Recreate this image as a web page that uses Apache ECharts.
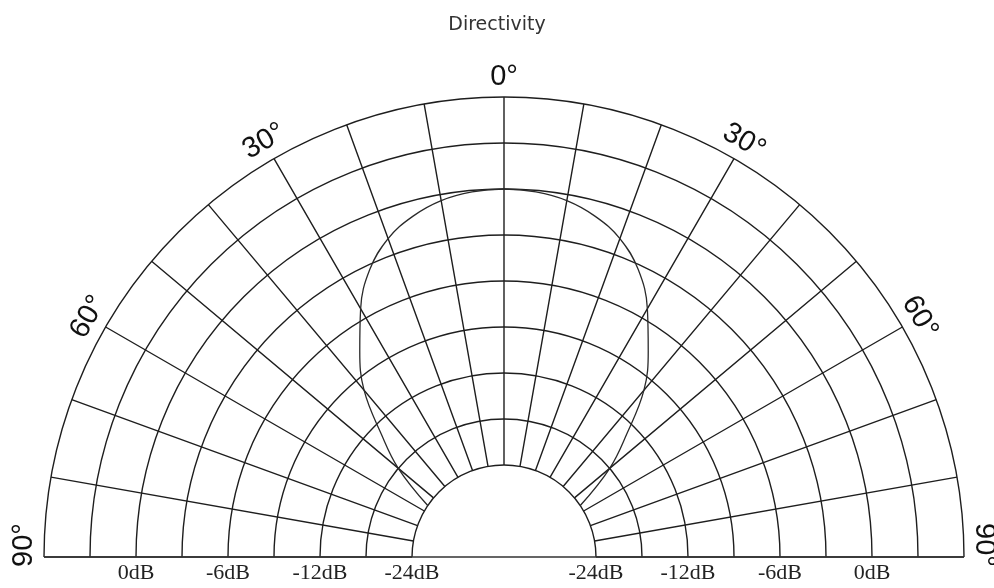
<!DOCTYPE html>
<html>
<head>
<meta charset="utf-8">
<script src="https://cdn.jsdelivr.net/npm/echarts@6/dist/echarts.min.js"></script>
<style>
html,body{margin:0;padding:0;background:#fff;}
#chart{width:994px;height:588px;}
</style>
</head>
<body>
<div id="chart"></div>
<script>
const titleText = 'Directivity';
// directivity curve: angle (deg, negative = left) and level (dB)
const curveAngles = [-56,-50,-45,-40,-35,-30,-25,-20,-15,-10,-5,0,5,10,15,20,25,30,35,40,45,50,56];
const curveLevels = [-18,-15,-12.7,-9.8,-7.6,-5.3,-3.3,-1.9,-1.0,-0.4,-0.1,0,-0.1,-0.4,-1.0,-1.9,-3.3,-5.3,-7.6,-9.8,-12.7,-15,-18];
// radius (level) tick labels
const levelTicks = [-18,-12,-6,0];
const levelTickLabels = ['-24dB','-12dB','-6dB','0dB'];
// angle tick labels
const angleTicks = [-90,-60,-30,0,30,60,90];
const angleTickLabels = ['90°','60°','30°','0°','30°','60°','90°'];

const CX = 504, CY = 557, R0 = 92, R1 = 460;
const gridColor = '#1e1e1e';

function levelFmt(v){
  const i = levelTicks.findIndex(t => Math.abs(t - v) < 1e-6);
  return i >= 0 ? levelTickLabels[i] : '';
}
const labelFont = {fontFamily:'Liberation Serif', fontSize:22, color:'#222'};

const chart = echarts.init(document.getElementById('chart'), null, {renderer:'canvas'});
chart.setOption({
  animation:false,
  backgroundColor:'#ffffff',
  title:{text:titleText,left:'center',top:11,textStyle:{fontFamily:'DejaVu Sans',fontSize:19,fontWeight:'normal',color:'#333'}},
  polar:[
    {center:[CX,CY],radius:[R0,R1]},
    {center:[CX,CY],radius:[0,R1]},
    {center:[CX,CY],radius:[0,480]}
  ],
  angleAxis:[
    {polarIndex:0,type:'value',min:-90,max:90,interval:10,startAngle:180,endAngle:0,clockwise:true,
     axisLine:{show:false},axisTick:{show:false},axisLabel:{show:false},
     splitLine:{show:true,lineStyle:{color:gridColor,width:1.4}}},
    {polarIndex:1,type:'value',min:0,max:180,interval:180,startAngle:0,endAngle:180,clockwise:false,
     axisLine:{show:false},axisTick:{show:false},axisLabel:{show:false},
     splitLine:{show:true,lineStyle:{color:'#333',width:1.6}}},
    {polarIndex:2,type:'value',min:-90,max:90,startAngle:180,endAngle:0,clockwise:true,show:false}
  ],
  radiusAxis:[
    {polarIndex:0,type:'value',min:-18,max:6,interval:3,
     axisLine:{show:false},axisTick:{show:false},
     axisLabel:Object.assign({show:true,margin:5,formatter:levelFmt},labelFont),
     splitLine:{show:true,lineStyle:{color:gridColor,width:1.4}}},
    {polarIndex:1,type:'value',min:-24,max:6,interval:3,
     axisLine:{show:false},axisTick:{show:false},
     axisLabel:Object.assign({show:true,margin:-5,verticalAlign:'top',formatter:levelFmt},labelFont),
     splitLine:{show:false}},
    {polarIndex:2,type:'value',min:0,max:480,show:false}
  ],
  series:[
    {type:'line',coordinateSystem:'polar',polarIndex:0,smooth:0.4,symbol:'none',silent:true,
     lineStyle:{color:'#2a2a2a',width:1.3},
     data:curveAngles.map((a,i)=>[curveLevels[i],a])},
    {type:'scatter',coordinateSystem:'polar',polarIndex:2,symbolSize:0.1,silent:true,
     itemStyle:{color:'#000'},
     label:{show:true,position:'inside',fontFamily:'Liberation Sans',fontSize:29,color:'#111',
       textBorderWidth:0,textShadowBlur:0,opacity:1,formatter:p=>p.name},
     data:angleTicks.map((a,i)=>({name:angleTickLabels[i],value:[480,a],
       label:{rotate:-a, offset: Math.abs(a)===90 ? [a<0?12:-12,0] : [0,0]}}))}
  ]
});
</script>
</body>
</html>
